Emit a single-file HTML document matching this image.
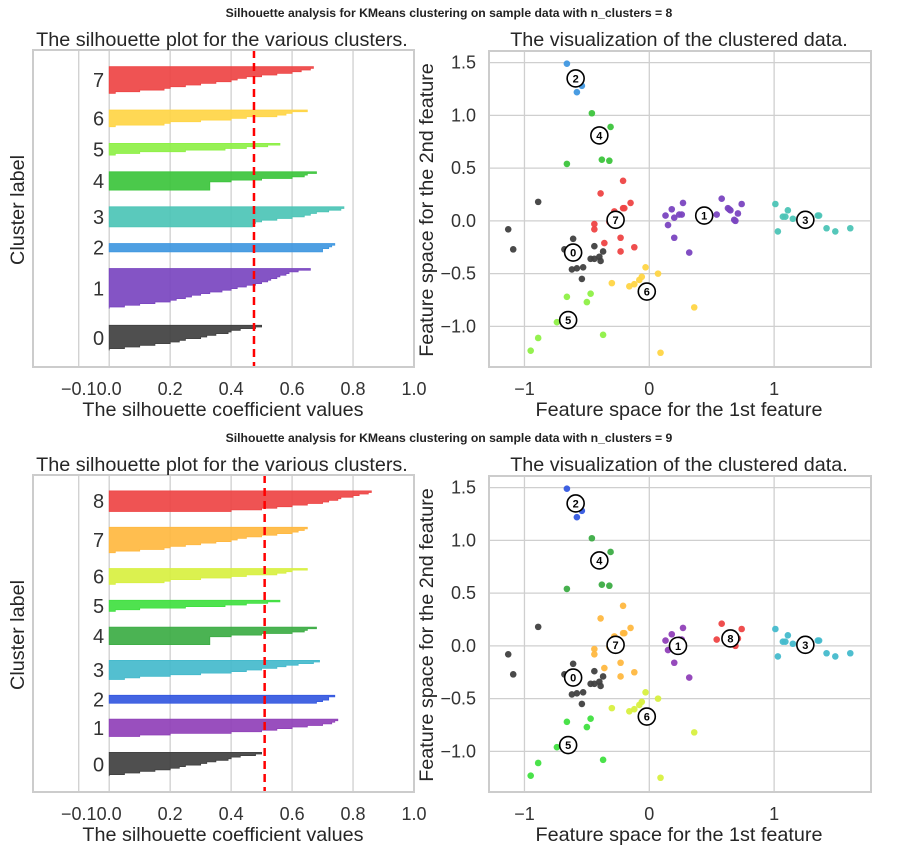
<!DOCTYPE html>
<html><head><meta charset="utf-8"><style>
html,body{margin:0;padding:0;background:#fff;}
svg{display:block;font-family:"Liberation Sans","DejaVu Sans",sans-serif;}
</style></head><body>
<svg id="fig" width="901" height="855" viewBox="0 0 901 855"></svg>
<script>
// ---- data ----
const nClusters = [8, 9];
const sizes8 = [15,24,5,12,11,7,10,16];
const sizes9 = [15,11,5,12,11,7,10,16,13];
const sil8 = [
 [0.50,0.48,0.43,0.40,0.39,0.35,0.32,0.30,0.25,0.23,0.20,0.15,0.10,0.05,0.0],
 [0.66,0.62,0.59,0.58,0.56,0.55,0.53,0.52,0.50,0.48,0.45,0.42,0.40,0.37,0.33,0.30,0.27,0.25,0.22,0.20,0.15,0.10,0.05,0.0],
 [0.74,0.73,0.72,0.70,0.70],
 [0.77,0.76,0.72,0.68,0.66,0.64,0.60,0.55,0.50,0.48,0.47,0.47],
 [0.68,0.65,0.64,0.60,0.50,0.40,0.33,0.33,0.33,0.33,0.33],
 [0.56,0.52,0.45,0.38,0.25,0.10,0.02],
 [0.65,0.60,0.58,0.55,0.45,0.40,0.30,0.20,0.18,0.02],
 [0.67,0.66,0.63,0.60,0.55,0.50,0.45,0.42,0.40,0.35,0.30,0.25,0.20,0.18,0.10,0.02]
];
const sil9 = [
 [0.50,0.48,0.43,0.40,0.39,0.35,0.32,0.30,0.25,0.23,0.20,0.15,0.10,0.05,0.0],
 [0.75,0.74,0.73,0.70,0.65,0.60,0.55,0.50,0.40,0.20,0.10],
 [0.74,0.72,0.72,0.70,0.68],
 [0.69,0.67,0.62,0.58,0.55,0.50,0.45,0.40,0.30,0.20,0.10,0.05],
 [0.68,0.65,0.64,0.60,0.50,0.40,0.33,0.33,0.33,0.33,0.33],
 [0.56,0.52,0.45,0.38,0.25,0.10,0.02],
 [0.65,0.60,0.58,0.55,0.45,0.40,0.30,0.20,0.18,0.02],
 [0.65,0.64,0.62,0.60,0.55,0.50,0.45,0.42,0.40,0.35,0.30,0.25,0.20,0.18,0.10,0.02],
 [0.86,0.85,0.82,0.80,0.76,0.75,0.72,0.70,0.65,0.60,0.55,0.50,0.40]
];
const avgScores = [0.475, 0.51];
const colors8 = ["#404040","#7a45c0","#3f97e0","#4cc4b6","#3cc43c","#8ef046","#ffd545","#ee4444"];
const colors9 = ["#404040","#9040b8","#3458e0","#44bacc","#3cac44","#40e040","#d8f040","#ffb840","#ee4444"];
const silXTicks = [-0.1,0.0,0.2,0.4,0.6,0.8,1.0];
const silXTickLabels = ["\u22120.1","0.0","0.2","0.4","0.6","0.8","1.0"];
const scXTicks = [-1,0,1];
const scXTickLabels = ["\u22121","0","1"];
const scYTicks = [-1.0,-0.5,0.0,0.5,1.0,1.5];
const scYTickLabels = ["\u22121.0","\u22120.5","0.0","0.5","1.0","1.5"];
const ptX = [-0.66,-0.54,-0.58, -0.46,-0.31,-0.38,-0.32,-0.66,
 -0.21,-0.39,-0.15,-0.21,-0.20,-0.28,-0.44,-0.44,-0.36,-0.23,-0.23,-0.12,-0.32,
 -0.89,-1.13,-1.09,-0.61,-0.68,-0.44,-0.37,-0.47,-0.44,-0.40,-0.39,-0.62,-0.58,-0.53,-0.54,
 0.13,0.18,0.27,0.20,0.24,0.26,0.15,0.20,0.32,
 0.54,0.58,0.63,0.64,0.65,0.71,0.74,0.68,0.69,
 1.01,1.03,1.07,1.09,1.11,1.15,1.35,1.36,1.42,1.49,1.61,
 -0.03,0.07,-0.06,-0.08,-0.12,-0.16,-0.30,0.36,0.09,
 -0.66,-0.47,-0.50,-0.74,-0.37,-0.89,-0.95];
const ptY = [1.49,1.28,1.22, 1.02,0.89,0.58,0.57,0.54,
 0.38,0.26,0.17,0.12,0.12,0.09,-0.03,-0.08,-0.21,-0.16,-0.29,-0.25,-0.01,
 0.18,-0.08,-0.27,-0.17,-0.27,-0.24,-0.29,-0.36,-0.36,-0.34,-0.38,-0.46,-0.45,-0.44,-0.55,
 0.05,0.11,0.17,0.03,0.06,0.06,-0.04,-0.16,-0.30,
 0.06,0.21,0.12,0.11,0.10,0.07,0.16,0.01,0.00,
 0.16,-0.10,0.04,0.04,0.10,0.02,0.05,0.05,-0.07,-0.10,-0.07,
 -0.44,-0.50,-0.53,-0.56,-0.60,-0.62,-0.59,-0.82,-1.25,
 -0.72,-0.69,-0.77,-0.96,-1.08,-1.11,-1.23];
const lab8 = [2,2,2, 4,4,4,4,4, 7,7,7,7,7,7,7,7,7,7,7,7,7,
 0,0,0,0,0,0,0,0,0,0,0,0,0,0,0, 1,1,1,1,1,1,1,1,1, 1,1,1,1,1,1,1,1,1,
 3,3,3,3,3,3,3,3,3,3,3, 6,6,6,6,6,6,6,6,6, 5,5,5,5,5,5,5];
const lab9 = [2,2,2, 4,4,4,4,4, 7,7,7,7,7,7,7,7,7,7,7,7,7,
 0,0,0,0,0,0,0,0,0,0,0,0,0,0,0, 1,1,1,1,1,1,1,1,1, 8,8,8,8,8,8,8,8,8,
 3,3,3,3,3,3,3,3,3,3,3, 6,6,6,6,6,6,6,6,6, 5,5,5,5,5,5,5];
const centX8 = [-0.61,0.44,-0.59,1.25,-0.40,-0.65,-0.02,-0.27];
const centY8 = [-0.30,0.05,1.35,0.01,0.81,-0.94,-0.67,0.01];
const centX9 = [-0.61,0.23,-0.59,1.25,-0.40,-0.65,-0.02,-0.27,0.65];
const centY9 = [-0.30,0.00,1.35,0.01,0.81,-0.94,-0.67,0.01,0.07];

// ---- drawing ----
const NS="http://www.w3.org/2000/svg";
const svg=document.getElementById('fig');
function mk(tag, attrs, parent){const e=document.createElementNS(NS,tag);for(const k in attrs)e.setAttribute(k,attrs[k]);(parent||svg).appendChild(e);return e;}
function txt(s, attrs, parent){const e=mk('text',attrs,parent);e.textContent=s;return e;}

const SL={l:33,r:414,t:50,b:367,x0:-0.25,x1:1.0};
const SC={l:489,r:871,t:51,b:367,x0:-1.284,x1:1.776,y0:-1.385,y1:1.61};

function drawRow(row, off){
  const n=nClusters[row];
  const sizes=row?sizes9:sizes8, sil=row?sil9:sil8, cols=row?colors9:colors8;
  const lab=row?lab9:lab8, cx=row?centX9:centX8, cy=row?centY9:centY8;
  const g=mk('g',{},svg);
  
  
  const st=txt('Silhouette analysis for KMeans clustering on sample data with n_clusters = '+n,{x:449,y:off+17,'text-anchor':'middle','font-size':'12.2','font-weight':'bold',fill:'#222'},g);
  
  
  let total=0; sizes.forEach(s=>total+=s);
  const ymax=total+(n+1)*10;
  const sx=v=>SL.l+(v-SL.x0)/(SL.x1-SL.x0)*(SL.r-SL.l);
  const sy=v=>off+SL.b-(v/ymax)*(SL.b-SL.t);
  const sg=mk('g',{},g);
  
  
  silXTicks.forEach((t,i)=>{
    const gl=mk('line',{x1:sx(t),x2:sx(t),y1:off+SL.t,y2:off+SL.b,stroke:'#cfcfcf','stroke-width':1.3},sg);
    
    
    const tl=txt(silXTickLabels[i],{x:sx(t),y:off+395,'text-anchor':'middle','font-size':'18',fill:'#333'},sg);
    
    
  });
  let yl=10;
  for(let c=0;c<n;c++){
    const v=sil[c].slice().sort((a,b)=>a-b); const m=v.length; const sz=sizes[c];
    let d='M'+sx(0)+','+sy(yl);
    for(let j=0;j<m;j++){const y0=yl+j*sz/m,y1=yl+(j+1)*sz/m;d+=' L'+sx(v[j])+','+sy(y0)+' L'+sx(v[j])+','+sy(y1);}
    d+=' L'+sx(0)+','+sy(yl+sz)+' Z';
    const p=mk('path',{d:d,fill:cols[c],'fill-opacity':0.92,stroke:cols[c],'stroke-width':0.8},sg);
    
    
    const cl=txt(String(c),{x:sx(-0.035),y:sy(yl+sz/2)+7,'text-anchor':'middle','font-size':'20',fill:'#333'},sg);
    
    
    yl+=sz+10;
  }
  const av=mk('line',{x1:sx(avgScores[row]),x2:sx(avgScores[row]),y1:off+SL.t,y2:off+SL.b,stroke:'#ff0000','stroke-width':2.5,'stroke-dasharray':'8,5'},sg);
  
  
  const fr=mk('rect',{x:SL.l,y:off+SL.t,width:SL.r-SL.l,height:SL.b-SL.t,fill:'none',stroke:'#cccccc','stroke-width':2},sg);
  
  
  const t1=txt('The silhouette plot for the various clusters.',{x:222,y:off+46,'text-anchor':'middle','font-size':'19.8',fill:'#262626'},sg);
  
  
  const xl=txt('The silhouette coefficient values',{x:223,y:off+416,'text-anchor':'middle','font-size':'19.8',fill:'#262626'},sg);
  
  
  const ylb=txt('Cluster label',{x:0,y:0,'text-anchor':'middle','font-size':'19.8',fill:'#262626',transform:'translate(24,'+(off+210)+') rotate(-90)'},sg);
  
  
  const px=v=>SC.l+(v-SC.x0)/(SC.x1-SC.x0)*(SC.r-SC.l);
  const py=v=>off+SC.b-(v-SC.y0)/(SC.y1-SC.y0)*(SC.b-SC.t);
  const cg=mk('g',{},g);
  
  
  scXTicks.forEach((t,i)=>{
    const gl=mk('line',{x1:px(t),x2:px(t),y1:off+SC.t,y2:off+SC.b,stroke:'#cfcfcf','stroke-width':1.3},cg);
    
    
    const tl=txt(scXTickLabels[i],{x:px(t),y:off+395,'text-anchor':'middle','font-size':'18',fill:'#333'},cg);
    
    
  });
  scYTicks.forEach((t,i)=>{
    const gl=mk('line',{x1:SC.l,x2:SC.r,y1:py(t),y2:py(t),stroke:'#cfcfcf','stroke-width':1.3},cg);
    
    
    const tl=txt(scYTickLabels[i],{x:476,y:py(t)+6,'text-anchor':'end','font-size':'18',fill:'#333'},cg);
    
    
  });
  for(let i=0;i<ptX.length;i++){
    const c=mk('circle',{cx:px(ptX[i]),cy:py(ptY[i]),r:3.3,fill:cols[lab[i]],'fill-opacity':0.95},cg);
    
    
  }
  for(let c=0;c<n;c++){
    const cc=mk('circle',{cx:px(cx[c]),cy:py(cy[c]),r:8.5,fill:'#fff',stroke:'#000','stroke-width':1.6},cg);
    
    
    const ct=txt(String(c),{x:px(cx[c]),y:py(cy[c])+4,'text-anchor':'middle','font-size':'11','font-weight':'bold',fill:'#000'},cg);
    
    
  }
  const fr2=mk('rect',{x:SC.l,y:off+SC.t,width:SC.r-SC.l,height:SC.b-SC.t,fill:'none',stroke:'#cccccc','stroke-width':2},cg);
  
  
  const t2=txt('The visualization of the clustered data.',{x:679,y:off+46,'text-anchor':'middle','font-size':'19.8',fill:'#262626'},cg);
  
  
  const xl2=txt('Feature space for the 1st feature',{x:679,y:off+416,'text-anchor':'middle','font-size':'19.8',fill:'#262626'},cg);
  
  
  const yl2=txt('Feature space for the 2nd feature',{x:0,y:0,'text-anchor':'middle','font-size':'19.8',fill:'#262626',transform:'translate(433,'+(off+210)+') rotate(-90)'},cg);
  
  
}
drawRow(0,0);
drawRow(1,425);
</script>
</body></html>
